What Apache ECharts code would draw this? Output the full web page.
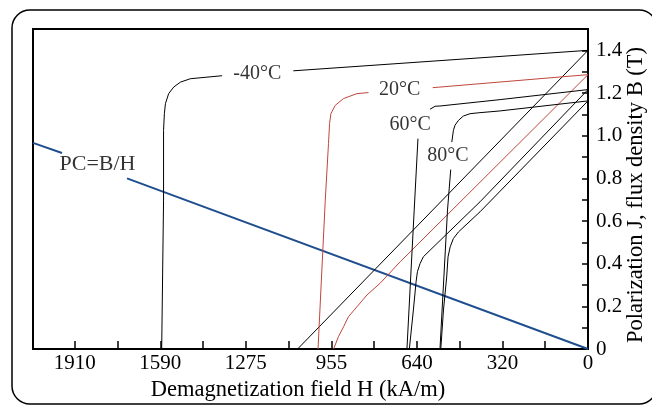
<!DOCTYPE html>
<html>
<head>
<meta charset="utf-8">
<script src="https://cdn.jsdelivr.net/npm/echarts@6/dist/echarts.min.js"></script>
<style>
  html, body { margin: 0; padding: 0; background: #fff; }
  #main { width: 652px; height: 405px; }
</style>
</head>
<body>
<div id="main"></div>
<script>
// H in kA/m, B/J in T ('-' = gap where the curve label sits)
var jMinus40 = [[0, 1.40], [1097, 1.304], ['-', '-'], [1362, 1.281], [1480, 1.267], [1517, 1.251], [1542, 1.228],
  [1561, 1.197], [1573, 1.150], [1577, 1.103], [1580, 1.025], [1580, 0.698], [1587, 0]];
var bMinus40 = [[0, 1.40], [1081, 0]];

var j20 = [[0, 1.286], [578, 1.225], ['-', '-'], [817, 1.202], [860, 1.197], [910, 1.174], [941, 1.142],
  [957, 1.103], [962, 1.057], [966, 0.963], [978, 0.698], [1005, 0]];
var b20 = [[0, 1.286], [699, 0.409], [774, 0.308], [823, 0.253], [860, 0.198], [892, 0.151], [910, 0.104],
  [929, 0.058], [947, 0]];

var j60 = [[0, 1.216], [327, 1.169], [409, 1.158], [551, 1.139], [569, 1.138], [588, 1.124], ['-', '-'],
  [633, 0.986], [647, 0.651], [674, 0]];
var b60 = [[0, 1.216], [402, 0.690], [588, 0.463], [613, 0.432], [625, 0.401], [635, 0.362], [640, 0.315],
  [650, 0.183], [665, 0]];

var j80 = [[0, 1.163], [327, 1.116], [409, 1.107], [439, 1.103], [464, 1.092], [482, 1.072], [495, 1.049],
  [501, 1.025], [507, 0.970], ['-', '-'], [511, 0.841], [523, 0.651], [551, 0]];
var b80 = [[0, 1.163], [402, 0.643], [482, 0.549], [501, 0.518], [513, 0.479], [521, 0.432], [526, 0.338],
  [538, 0.183], [548, 0]];

var pcLine = [[0, 0], [1716, 0.80], ['-', '-'], [1958, 0.919], [2066, 0.966]];

var labelNames = ['-40°C', '20°C', '60°C', '80°C', 'PC=B/H'];
var labelH = [1231, 701, 662, 521, 1826];
var labelB = [1.292, 1.217, 1.052, 0.907, 0.866];

var xStep = 159.2;
var xTickLabels = ['0', '', '320', '', '640', '', '955', '', '1275', '', '1590', '', '1910', ''];
var yTickLabels = ['0', '', '0.2', '', '0.4', '', '0.6', '', '0.8', '', '1.0', '', '1.2', '', '1.4', ''];

var font = 'Liberation Serif';
var black = '#000';
var red = '#c0463c';
var blue = '#1f4e8f';

var chart = echarts.init(document.getElementById('main'));

function curve(data, color, width) {
  return {
    type: 'line',
    data: data,
    showSymbol: false,
    symbol: 'none',
    connectNulls: false,
    lineStyle: { color: color, width: width },
    silent: true
  };
}

var labelData = [];
for (var i = 0; i < labelNames.length; i++) {
  var item = { name: labelNames[i], value: [labelH[i], labelB[i]] };
  if (labelNames[i] === 'PC=B/H') item.label = { fontSize: 22 };
  labelData.push(item);
}

var option = {
  animation: false,
  graphic: [{
    type: 'rect',
    z: -10,
    shape: { x: 12, y: 10, width: 645, height: 394, r: 18 },
    style: { fill: 'none', stroke: '#000', lineWidth: 1.5 }
  }],
  grid: {
    left: 33, right: 64, top: 29, bottom: 56,
    outerBoundsMode: 'none',
    containLabel: false,
    show: true, borderColor: '#000', borderWidth: 2
  },
  xAxis: {
    type: 'value',
    inverse: true,
    min: 0,
    max: 2066,
    interval: xStep,
    name: 'Demagnetization field H (kA/m)',
    nameLocation: 'middle',
    nameGap: 30,
    nameMoveOverlap: false,
    nameTextStyle: { fontFamily: font, fontSize: 22.5, color: '#000', padding: [0, 25, 0, 0] },
    axisLine: { lineStyle: { color: '#000', width: 2 } },
    axisTick: { inside: true, length: 8, lineStyle: { color: '#000', width: 1.5 } },
    axisLabel: {
      fontFamily: font, fontSize: 21, color: '#000', margin: 4,
      formatter: function (v) { return xTickLabels[Math.round(v / xStep)] || ''; }
    },
    splitLine: { show: false }
  },
  yAxis: {
    type: 'value',
    position: 'right',
    min: 0,
    max: 1.5,
    interval: 0.1,
    name: 'Polarization J, flux density B (T)',
    nameLocation: 'middle',
    nameRotate: 90,
    nameGap: 37,
    nameMoveOverlap: false,
    nameTextStyle: { fontFamily: font, fontSize: 22.5, color: '#000', padding: [0, 12, 0, 0] },
    axisLine: { lineStyle: { color: '#000', width: 2 } },
    axisTick: { inside: true, length: 6, lineStyle: { color: '#000', width: 1.5 } },
    axisLabel: {
      fontFamily: font, fontSize: 21, color: '#000', margin: 8,
      formatter: function (v) { return yTickLabels[Math.round(v * 10)] || ''; }
    },
    splitLine: { show: false }
  },
  series: [
    curve(pcLine, blue, 2),
    curve(bMinus40, black, 1),
    curve(jMinus40, black, 1),
    curve(b20, red, 1),
    curve(j20, red, 1),
    curve(b60, black, 1),
    curve(j60, black, 1),
    curve(b80, black, 1),
    curve(j80, black, 1),
    {
      type: 'scatter',
      data: labelData,
      symbolSize: 0,
      silent: true,
      z: 5,
      label: {
        show: true,
        position: 'inside',
        formatter: '{b}',
        fontFamily: font,
        fontSize: 20,
        color: '#000'
      }
    }
  ]
};

chart.setOption(option);
</script>
</body>
</html>
